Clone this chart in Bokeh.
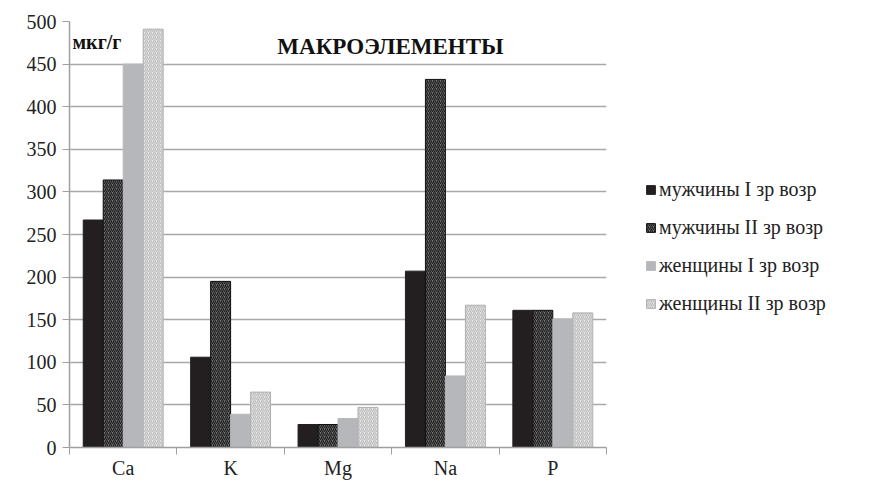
from bokeh.plotting import figure
from bokeh.models import Legend, LegendItem, Label, FixedTicker, Range1d
from bokeh.embed import file_html
from bokeh.resources import INLINE

categories = ["Ca", "K", "Mg", "Na", "P"]
series_names = ["мужчины I зр возр", "мужчины II зр возр", "женщины I зр возр", "женщины II зр возр"]
men_1 = [267, 106, 27, 207, 161]
men_2 = [314, 195, 27, 432, 161]
women_1 = [450, 39, 34, 84, 151]
women_2 = [491, 65, 47, 167, 158]
y_ticks = [0, 50, 100, 150, 200, 250, 300, 350, 400, 450, 500]

series = [men_1, men_2, women_1, women_2]
styles = [
    dict(fill_color="#231f20", line_color="#231f20", hatch_pattern=None),
    dict(fill_color="#707070", line_color="#111111", hatch_pattern="/", hatch_color="#1e1e1e", hatch_scale=4, hatch_weight=1.2),
    dict(fill_color="#b6b7ba", line_color="#b6b7ba", hatch_pattern=None),
    dict(fill_color="#e6e6e6", line_color="#b0b0b0", hatch_pattern="/", hatch_color="#bdbdbd", hatch_scale=4, hatch_weight=1.2),
]

FONT = "Liberation Serif"
bw = 0.186

p = figure(frame_width=537, frame_height=426, output_backend="svg", toolbar_location=None,
           x_range=Range1d(0, len(categories)), y_range=Range1d(0, 500),
           min_border_left=69, min_border_right=0, min_border_top=21, min_border_bottom=28)
p.outline_line_color = None
p.background_fill_color = "white"

items = []
for j, (vals, st) in enumerate(zip(series, styles)):
    xs = [i + 0.5 + (j - 1.5) * bw for i in range(len(categories))]
    kw = {k: v for k, v in st.items() if v is not None}
    r = p.vbar(x=xs, top=vals, width=bw, bottom=0, line_width=1, **kw)
    items.append(LegendItem(label=series_names[j], renderers=[r]))

# axes
p.xaxis.ticker = FixedTicker(ticks=[i + 0.5 for i in range(len(categories))],
                             minor_ticks=list(range(len(categories) + 1)))
p.xaxis.major_label_overrides = {i + 0.5: c for i, c in enumerate(categories)}
p.xaxis.major_tick_line_color = None
p.xaxis.minor_tick_line_color = "#a0a0a0"
p.xaxis.minor_tick_out = 7
p.xaxis.minor_tick_in = 0
p.xaxis.axis_line_color = "#a0a0a0"
p.xaxis.axis_line_width = 1.5
p.xaxis.major_label_text_font = FONT
p.xaxis.major_label_text_font_size = "20px"
p.xaxis.major_label_text_color = "#222222"
p.xaxis.major_label_standoff = 2

p.yaxis.ticker = FixedTicker(ticks=y_ticks)
p.yaxis.minor_tick_line_color = None
p.yaxis.major_tick_line_color = "#a0a0a0"
p.yaxis.major_tick_out = 7
p.yaxis.major_tick_in = 0
p.yaxis.axis_line_color = "#a0a0a0"
p.yaxis.axis_line_width = 1.5
p.yaxis.major_label_text_font = FONT
p.yaxis.major_label_text_font_size = "20px"
p.yaxis.major_label_text_color = "#222222"
p.yaxis.major_label_standoff = 6

p.xgrid.grid_line_color = None
p.ygrid.grid_line_color = "#a8a8a8"
p.ygrid.grid_line_width = 1.5

legend = Legend(items=items, location=(39, 132), orientation="vertical")
legend.label_text_font = FONT
legend.label_text_font_size = "20px"
legend.label_text_color = "#222222"
legend.glyph_width = 11
legend.glyph_height = 11
legend.label_height = 20
legend.spacing = 15
legend.padding = 0
legend.margin = 0
legend.label_standoff = 3
legend.border_line_color = None
legend.background_fill_alpha = 0
p.add_layout(legend, "right")

p.add_layout(Label(x=390 - 69, y=447 - 46, x_units="screen", y_units="screen",
                   text="МАКРОЭЛЕМЕНТЫ", text_font=FONT, text_font_size="23px",
                   text_font_style="bold", text_align="center", text_baseline="middle",
                   text_color="#111111"))
p.add_layout(Label(x=72 - 69, y=447 - 41, x_units="screen", y_units="screen",
                   text="мкг/г", text_font=FONT, text_font_size="20px",
                   text_font_style="bold", text_align="left", text_baseline="middle",
                   text_color="#111111"))

open("out.html", "w").write(file_html(p, INLINE))
